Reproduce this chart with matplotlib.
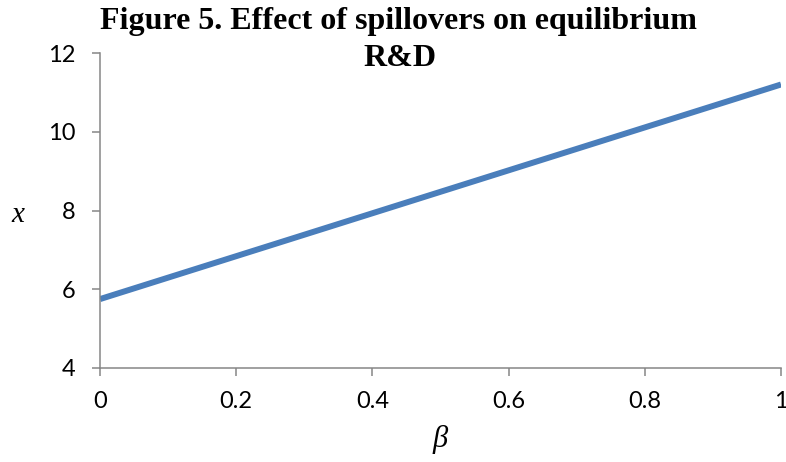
import matplotlib
matplotlib.use("Agg")
import matplotlib.pyplot as plt

beta = [0.0, 0.2, 0.4, 0.6, 0.8, 1.0]
x_vals = [5.75, 6.84, 7.93, 9.02, 10.11, 11.2]
x_ticks = [0, 0.2, 0.4, 0.6, 0.8, 1]
x_ticklabels = ["0", "0.2", "0.4", "0.6", "0.8", "1"]
y_ticks = [4, 6, 8, 10, 12]
y_ticklabels = ["4", "6", "8", "10", "12"]
title_lines = ["Figure 5. Effect of spillovers on equilibrium", "R&D"]

fig = plt.figure(figsize=(7.86, 4.62), dpi=100)
ax = fig.add_axes([100/786, 1-368/462, 681/786, 315/462])
ax.plot(beta, x_vals, color="#4A7EBB", lw=4.3, solid_capstyle="butt")
ax.set_xlim(0, 1)
ax.set_ylim(4, 12)
ax.set_xticks(x_ticks)
ax.set_xticklabels(x_ticklabels)
ax.set_yticks(y_ticks)
ax.set_yticklabels(y_ticklabels)
for s in ["top", "right"]:
    ax.spines[s].set_visible(False)
for s in ["left", "bottom"]:
    ax.spines[s].set_color("#868686")
    ax.spines[s].set_linewidth(1.1)
ax.tick_params(axis="both", direction="out", length=5.8, width=1.1, color="#868686",
               labelsize=17, pad=11)
for lab in ax.get_xticklabels() + ax.get_yticklabels():
    lab.set_fontfamily("Lato")
ax.tick_params(axis="y", pad=12)

fig.text(18/786, 1-215/462, "x", family="Liberation Serif", style="italic",
         fontsize=21, ha="center", va="center")
fig.text(440/786, 1-440/462, "β", family="Liberation Serif", style="italic",
         fontsize=22, ha="center", va="center")
fig.text(398/786, 1-22/462, title_lines[0], family="Liberation Serif", weight="bold",
         fontsize=23, ha="center", va="center")
fig.text(400/786, 1-59/462, title_lines[1], family="Liberation Serif", weight="bold",
         fontsize=23, ha="center", va="center")

fig.savefig("out.png", dpi=100)
